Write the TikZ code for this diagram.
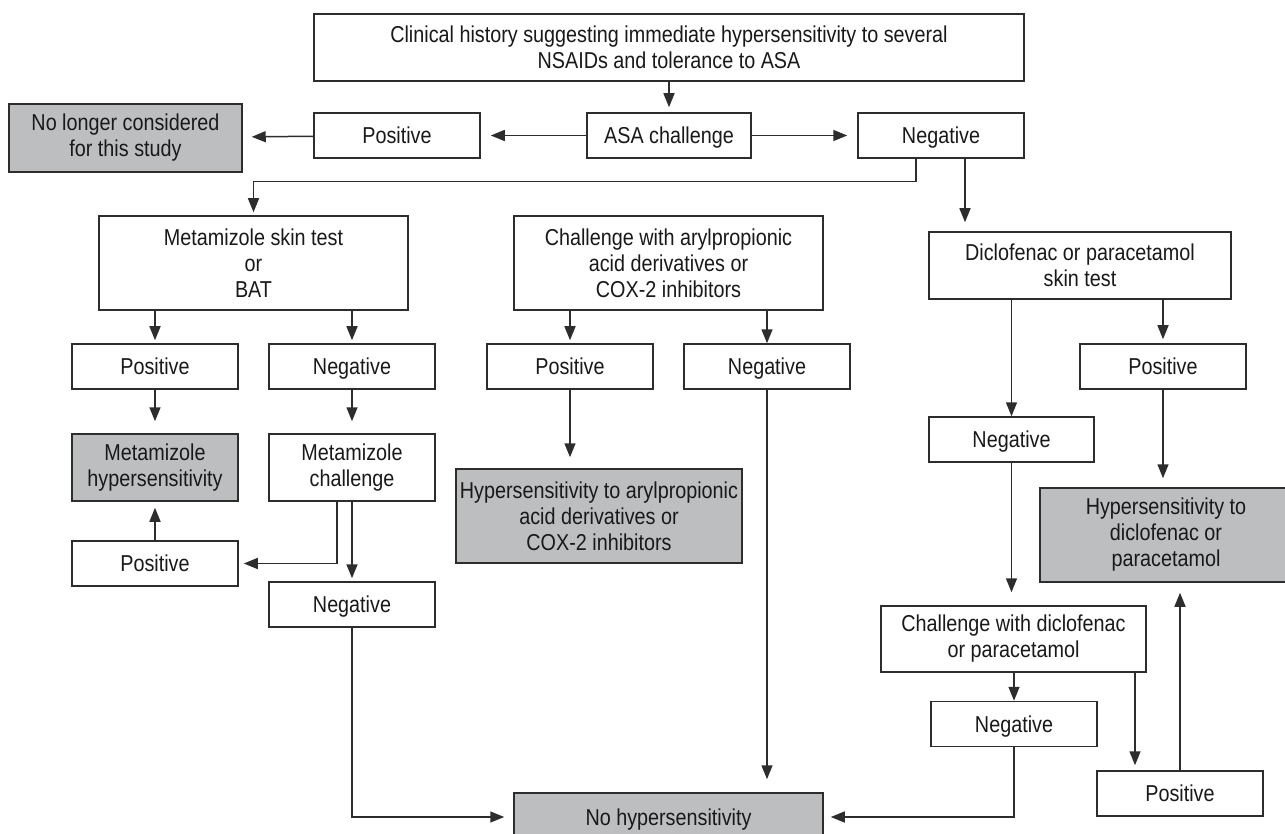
\documentclass[tikz,border=0pt]{standalone}
\usepackage{fontspec}
\setmainfont{Liberation Sans}[FakeStretch=0.86]
\usetikzlibrary{arrows.meta}

\definecolor{boxgray}{RGB}{189,190,192}
\definecolor{linegray}{RGB}{45,45,45}

\tikzset{
  box/.style={draw=linegray, line width=1.5pt, fill=white, align=center, inner sep=2pt,
    font=\fontsize{23}{26}\selectfont, text=black!90},
  result/.style={box, fill=boxgray},
  oneline/.style={text height=16.5pt, text depth=0pt},
  small/.style={box, oneline, minimum width=166pt, minimum height=45pt},
  arr/.style={draw=linegray, line width=1.5pt, -{Triangle[length=14pt,width=11pt]}},
}

\begin{document}
\begin{tikzpicture}[x=1pt,y=-1pt]
\useasboundingbox (0,0) rectangle (1285,834);

% first step
\node[box, minimum width=710pt, minimum height=67pt] (hist) at (669,47.5)
  {Clinical history suggesting immediate hypersensitivity to several\\NSAIDs and tolerance to ASA};
\node[small, minimum width=164pt] (asa) at (669,135.5) {ASA challenge};
\node[small] (posA) at (397,135.5) {Positive};
\node[small] (negA) at (941,135.5) {Negative};
\node[result, minimum width=233pt, minimum height=68pt] (nolonger) at (125.5,138)
  {No longer considered\\for this study};

% three branches
\node[box, minimum width=309pt, minimum height=94pt] (metaskin) at (253.5,263)
  {Metamizole skin test\\or\\BAT};
\node[box, minimum width=309pt, minimum height=94pt] (arylch) at (668.5,263)
  {Challenge with arylpropionic\\acid derivatives or\\COX-2 inhibitors};
\node[box, minimum width=302pt, minimum height=67pt] (diclskin) at (1080,265.5)
  {Diclofenac or paracetamol\\skin test};

\node[small] (posM) at (155,366.5) {Positive};
\node[small] (negM) at (352,366.5) {Negative};
\node[small] (posR) at (570,366.5) {Positive};
\node[small] (negR) at (767,366.5) {Negative};
\node[small] (posD) at (1163,366.5) {Positive};
\node[small, minimum width=165pt] (negD) at (1011.5,439.5) {Negative};

\node[result, minimum width=166pt, minimum height=67pt] (metahyp) at (155,467.5)
  {Metamizole\\hypersensitivity};
\node[box, minimum width=166pt, minimum height=67pt] (metach) at (352,467.5)
  {Metamizole\\challenge};
\node[result, minimum width=286pt, minimum height=94pt] (arylhyp) at (599,516)
  {Hypersensitivity to arylpropionic\\acid derivatives or\\COX-2 inhibitors};
\node[result, minimum width=252pt, minimum height=94pt] (diclhyp) at (1166,535)
  {Hypersensitivity to\\diclofenac or\\paracetamol};

\node[small] (posM2) at (155,563.5) {Positive};
\node[small] (negM2) at (352,604.5) {Negative};
\node[box, minimum width=265pt, minimum height=66pt] (diclch) at (1013.5,639)
  {Challenge with diclofenac\\or paracetamol};
\node[small] (negD2) at (1014,724) {Negative};
\node[small] (posD2) at (1180,793.5) {Positive};

\node[result, oneline, minimum width=309pt, minimum height=48pt] (nohyp) at (668.5,817) {No hypersensitivity};

% connectors
\draw[arr, shorten >=5pt] (hist) -- (asa);
\draw[arr, shorten >=10pt] (asa) -- (posA);
\draw[arr, shorten >=9pt] (posA) -- (nolonger);
\draw[arr, shorten >=10pt] (asa) -- (negA);
\draw[arr, shorten >=3pt] ([xshift=-25pt]negA.south) -- ++(0,23) -| (metaskin.north);
\draw[arr, shorten >=9pt] ([xshift=24pt]negA.south) -- ([xshift=24pt]negA.south |- diclskin.north);

\draw[arr, shorten >=3pt] (metaskin.south -| posM) -- (posM.north);
\draw[arr, shorten >=3pt] (metaskin.south -| negM) -- (negM.north);
\draw[arr, shorten >=3pt] (arylch.south -| posR) -- (posR.north);
\draw[arr] (arylch.south -| negR) -- (negR.north);
\draw[arr] (diclskin.south -| negD) -- (negD.north);
\draw[arr, shorten >=4pt] (diclskin.south -| posD) -- (posD.north);

\draw[arr, shorten >=12pt] (posM) -- (metahyp);
\draw[arr, shorten >=12pt] (negM) -- (metach);
\draw[arr, shorten >=11pt] (posR.south) -- (posR.south |- arylhyp.north);
\draw[arr, shorten >=13pt] (negR.south) -- (negR.south |- nohyp.north);
\draw[arr, shorten >=9pt] (posD.south) -- (posD.south |- diclhyp.north);
\draw[arr, shorten >=13pt] (negD.south) -- (negD.south |- diclch.north);

\draw[arr, shorten >=5pt] ([xshift=-15pt]metach.south) |- (posM2.east);
\draw[arr, shorten >=3pt] (metach) -- (negM2);
\draw[arr, shorten >=6pt] (posM2) -- (metahyp);
\draw[arr, shorten >=9pt] (negM2.south) |- (nohyp.west);

\draw[arr] (diclch.south -| negD2) -- (negD2.north);
\draw[arr, shorten >=5pt] ([xshift=-45pt]posD2.north |- diclch.south) -- ([xshift=-45pt]posD2.north);
\draw[arr, shorten >=10pt] (posD2.north) -- (posD2.north |- diclhyp.south);
\draw[arr, shorten >=7pt] (negD2.south) |- (nohyp.east);

\end{tikzpicture}
\end{document}
